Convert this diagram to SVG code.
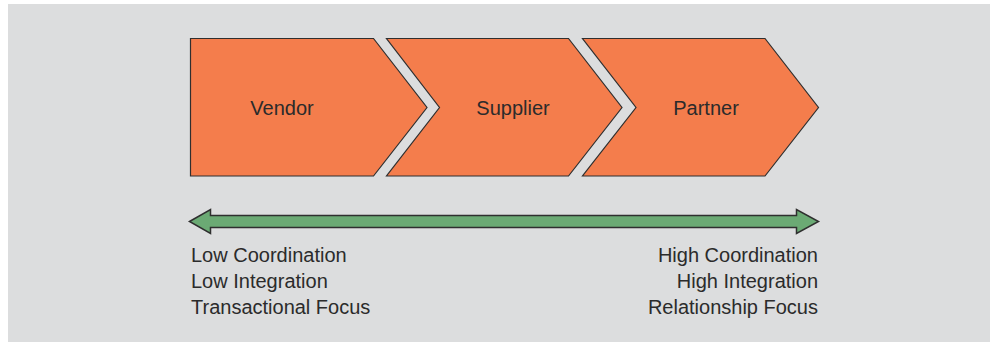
<svg xmlns="http://www.w3.org/2000/svg" width="995" height="346" viewBox="0 0 995 346">
<style>
.chev{fill:#F47D4C;stroke:#2f2f2f;stroke-width:1.2;stroke-linejoin:miter}
.arr{fill:#6BAA74;stroke:#2f2f2f;stroke-width:1.5}
text{font-family:"Liberation Sans",Arial,sans-serif;font-size:20px;fill:#2b2b2b}
.c{text-anchor:middle}
.r{text-anchor:end}
</style>
<rect x="8" y="4" width="982" height="338" fill="#DCDDDE"/>
<g id="vendor">
<polygon class="chev" points="190.5,38.5 373.5,38.5 427,107.5 373.5,176 190.5,176"/>
<text class="c" x="282" y="115">Vendor</text>
</g>
<g id="supplier">
<polygon class="chev" points="386.5,38.5 568.5,38.5 622,107.5 568.5,176 386.5,176 439.5,107.5"/>
<text class="c" x="513" y="115">Supplier</text>
</g>
<g id="partner">
<polygon class="chev" points="582.5,38.5 765,38.5 818.5,107.5 765,176 582.5,176 636,107.5"/>
<text class="c" x="706" y="115">Partner</text>
</g>
<g id="connectors">
<polygon class="arr" points="189.5,221.5 210.5,209.5 210.5,215.5 796.5,215.5 796.5,209.5 818.5,221.5 796.5,233.5 796.5,227.5 210.5,227.5 210.5,233.5"/>
</g>
<g id="left-labels">
<text x="191" y="262">Low Coordination</text>
<text x="191" y="288">Low Integration</text>
<text x="191" y="314">Transactional Focus</text>
</g>
<g id="right-labels">
<text class="r" x="818" y="262">High Coordination</text>
<text class="r" x="818" y="288">High Integration</text>
<text class="r" x="818" y="314">Relationship Focus</text>
</g>
</svg>
